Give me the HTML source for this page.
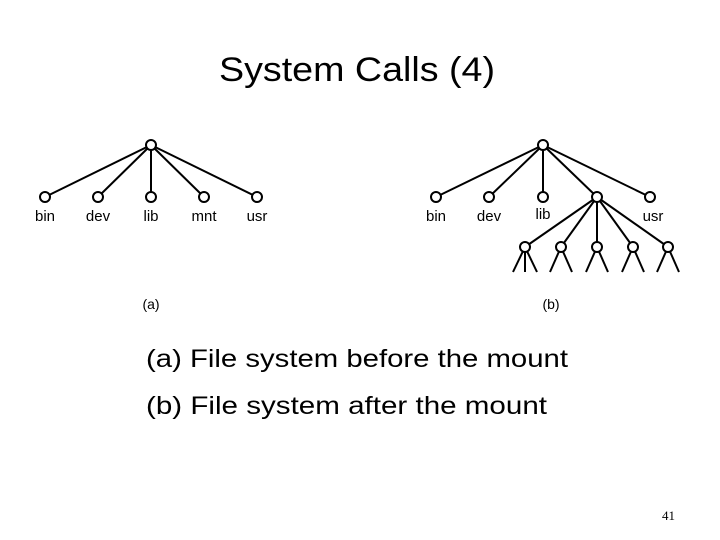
<!DOCTYPE html>
<html><head><style>
body{margin:0;width:720px;height:540px;background:#fff;overflow:hidden;font-family:"Liberation Sans",sans-serif}
</style></head><body>
<svg width="720" height="540" xmlns="http://www.w3.org/2000/svg" style="position:absolute;left:0;top:0">
<text x="219" y="81" font-size="34" textLength="276" lengthAdjust="spacingAndGlyphs" font-family="Liberation Sans" fill="#000">System Calls (4)</text>
<g stroke="#000" stroke-width="2" fill="none">
<line x1="151" y1="145" x2="45" y2="197"/><line x1="151" y1="145" x2="98" y2="197"/><line x1="151" y1="145" x2="151" y2="197"/><line x1="151" y1="145" x2="204" y2="197"/><line x1="151" y1="145" x2="257" y2="197"/>
<line x1="543" y1="145" x2="436" y2="197"/><line x1="543" y1="145" x2="489" y2="197"/><line x1="543" y1="145" x2="543" y2="197"/><line x1="543" y1="145" x2="597" y2="197"/><line x1="543" y1="145" x2="650" y2="197"/>
<line x1="597" y1="197" x2="525" y2="247"/><line x1="597" y1="197" x2="561" y2="247"/><line x1="597" y1="197" x2="597" y2="247"/><line x1="597" y1="197" x2="633" y2="247"/><line x1="597" y1="197" x2="668" y2="247"/>
<line x1="525" y1="247" x2="513" y2="272"/><line x1="525" y1="247" x2="525" y2="272"/><line x1="525" y1="247" x2="537" y2="272"/>
<line x1="561" y1="247" x2="550" y2="272"/><line x1="561" y1="247" x2="572" y2="272"/>
<line x1="597" y1="247" x2="586" y2="272"/><line x1="597" y1="247" x2="608" y2="272"/>
<line x1="633" y1="247" x2="622" y2="272"/><line x1="633" y1="247" x2="644" y2="272"/>
<line x1="668" y1="247" x2="657" y2="272"/><line x1="668" y1="247" x2="679" y2="272"/>
</g>
<g stroke="#000" stroke-width="2" fill="#fff">
<circle cx="151" cy="145" r="5"/><circle cx="45" cy="197" r="5"/><circle cx="98" cy="197" r="5"/><circle cx="151" cy="197" r="5"/><circle cx="204" cy="197" r="5"/><circle cx="257" cy="197" r="5"/>
<circle cx="543" cy="145" r="5"/><circle cx="436" cy="197" r="5"/><circle cx="489" cy="197" r="5"/><circle cx="543" cy="197" r="5"/><circle cx="597" cy="197" r="5"/><circle cx="650" cy="197" r="5"/>
<circle cx="525" cy="247" r="5"/><circle cx="561" cy="247" r="5"/><circle cx="597" cy="247" r="5"/><circle cx="633" cy="247" r="5"/><circle cx="668" cy="247" r="5"/>
</g>
<g font-size="15" text-anchor="middle" fill="#000">
<text x="45" y="221">bin</text><text x="98" y="221">dev</text><text x="151" y="221">lib</text><text x="204" y="221">mnt</text><text x="257" y="221">usr</text>
<text x="436" y="221">bin</text><text x="489" y="221">dev</text><text x="543" y="219">lib</text><text x="653" y="221">usr</text>
<text x="151" y="309" font-size="14">(a)</text><text x="551" y="309" font-size="14">(b)</text>
</g>
<text x="146" y="367" font-size="25" textLength="422" lengthAdjust="spacingAndGlyphs" fill="#000">(a) File system before the mount</text>
<text x="146" y="414" font-size="25" textLength="401" lengthAdjust="spacingAndGlyphs" fill="#000">(b) File system after the mount</text>
<text x="662" y="520" font-size="13" font-family="Liberation Serif" fill="#000">41</text>
</svg>
</body></html>
